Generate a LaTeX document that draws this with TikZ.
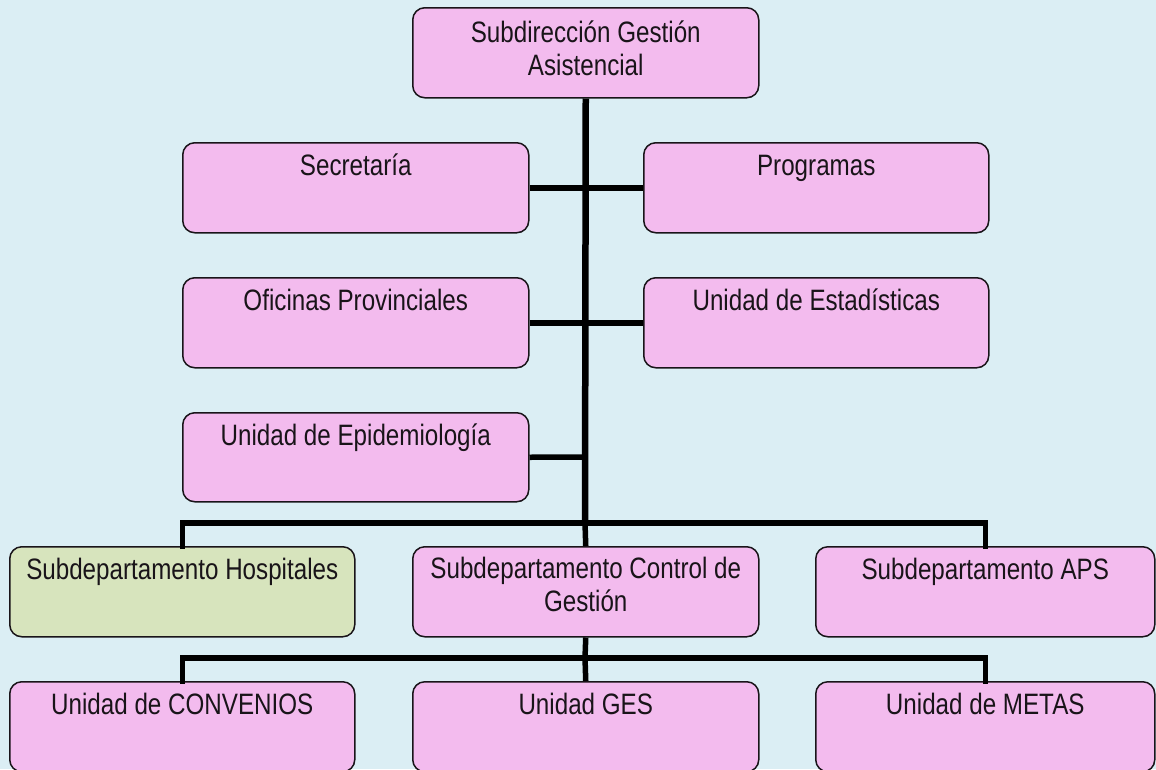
\documentclass[tikz,border=0pt]{standalone}
\usepackage{fontspec}
\setmainfont[FakeStretch=0.82]{Liberation Sans}
\definecolor{bgblue}{RGB}{219,238,244}
\definecolor{boxpink}{RGB}{243,187,238}
\definecolor{boxgreen}{RGB}{215,228,189}
\definecolor{edge}{RGB}{25,20,25}
\newcommand{\bxt}[4]{\begin{minipage}[c][#2][t]{#1}\centering\fontsize{29.5}{33}\selectfont\rule{0pt}{#3}#4\end{minipage}}
\begin{document}
\begin{tikzpicture}[x=1pt,y=-1pt,
  orgbox/.style={draw=edge, line width=1.5pt, fill=boxpink, rounded corners=12pt, inner sep=0pt, anchor=north west, text=edge},
  greenbox/.style={orgbox, fill=boxgreen},
  link/.style={line width=5.5pt, draw=black},
  trunk/.style={line width=6.5pt, draw=black}]
\fill[bgblue] (0,0) rectangle (1156,769);
\useasboundingbox (0,0) rectangle (1156,769);

% nodes
\node[orgbox] (top) at (412,7) {\bxt{346pt}{90pt}{35pt}{Subdirección Gestión\\Asistencial}};
\node[orgbox] (sec) at (182,142) {\bxt{346pt}{90pt}{33pt}{Secretaría}};
\node[orgbox] (prog) at (643,142) {\bxt{345pt}{90pt}{33pt}{Programas}};
\node[orgbox] (ofi) at (182,277) {\bxt{346pt}{90pt}{33pt}{Oficinas Provinciales}};
\node[orgbox] (est) at (643,277) {\bxt{345pt}{90pt}{33pt}{Unidad de Estadísticas}};
\node[orgbox] (epi) at (182,412) {\bxt{346pt}{89pt}{33pt}{Unidad de Epidemiología}};
\node[greenbox] (hosp) at (9,546) {\bxt{345pt}{90pt}{33pt}{Subdepartamento Hospitales}};
\node[orgbox] (ctrl) at (412,546) {\bxt{346pt}{90pt}{32pt}{Subdepartamento Control de\\Gestión}};
\node[orgbox] (aps) at (815,546) {\bxt{339pt}{90pt}{33pt}{Subdepartamento APS}};
\node[orgbox] (conv) at (9,681) {\bxt{345pt}{90pt}{33pt}{Unidad de CONVENIOS}};
\node[orgbox] (ges) at (412,681) {\bxt{346pt}{90pt}{33pt}{Unidad GES}};
\node[orgbox] (metas) at (815,681) {\bxt{339pt}{90pt}{33pt}{Unidad de METAS}};

\coordinate (bus1) at (585,523);
\coordinate (bus2) at (585,658);
\coordinate (epij) at (585,457);

% connectors
\draw[trunk] (top.south) -- (bus1);
\draw[link] (sec.east) -- (prog.west);
\draw[link] (ofi.east) -- (est.west);
\draw[link] (epi.east) -- (epij);
\draw[link, line cap=rect] (hosp.north) |- (bus1) -| (aps.north);
\draw[link] (bus1) -- (ctrl.north);
\draw[link] (ctrl.south) -- (bus2);
\draw[link, line cap=rect] (conv.north) |- (bus2) -| (metas.north);
\draw[link] (bus2) -- (ges.north);
\end{tikzpicture}
\end{document}
